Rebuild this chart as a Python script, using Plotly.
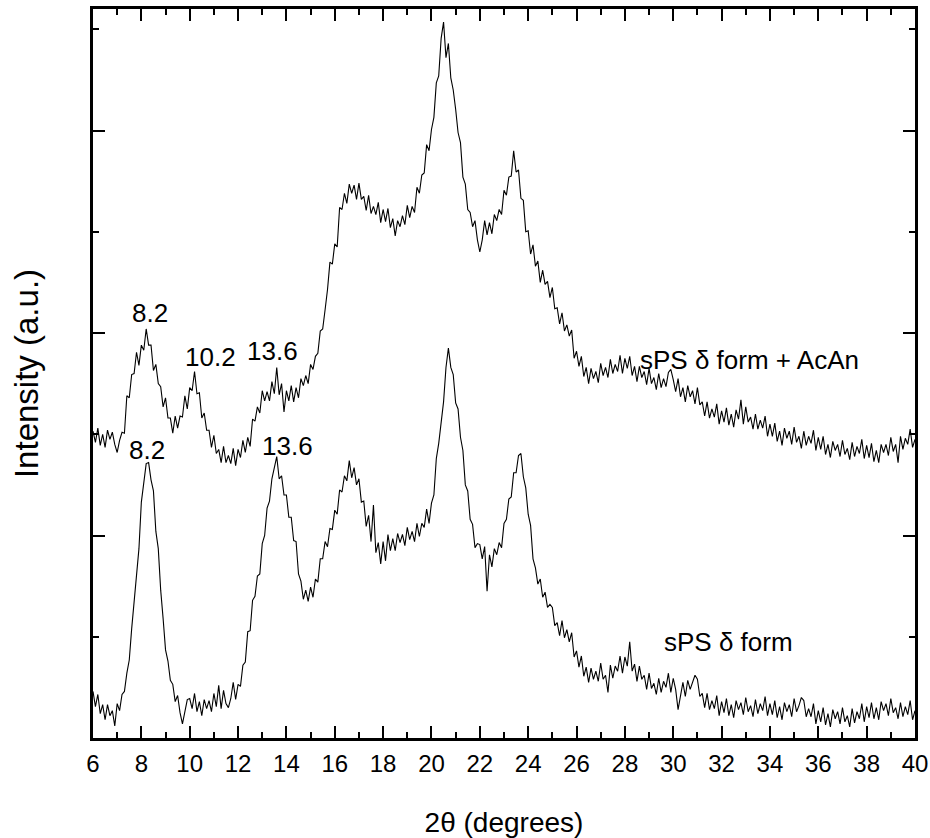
import numpy as np
import plotly.graph_objects as go

# 2-theta sampling grid (degrees)
THETA_START = 6.0
THETA_STEP = 0.1
N_POINTS = 341
X_RANGE = [6, 40]

# sPS delta form + AcAn (upper pattern), a.u.
acan_intensity = [
    3.03, 2.92, 3.06, 2.89, 3.00, 2.87, 3.04, 2.95, 3.02, 2.90,
    2.82, 2.94, 3.02, 3.01, 3.38, 3.36, 3.59, 3.60, 3.81, 3.68,
    3.88, 3.83, 4.04, 3.88, 3.88, 3.63, 3.69, 3.50, 3.47, 3.27,
    3.36, 3.16, 3.16, 3.01, 3.18, 3.06, 3.18, 3.17, 3.38, 3.25,
    3.46, 3.43, 3.62, 3.40, 3.41, 3.16, 3.21, 3.04, 3.04, 2.87,
    2.99, 2.81, 2.85, 2.72, 2.88, 2.72, 2.79, 2.71, 2.86, 2.69,
    2.85, 2.77, 2.94, 2.82, 2.97, 2.88, 3.15, 3.13, 3.27, 3.21,
    3.43, 3.33, 3.42, 3.33, 3.52, 3.40, 3.66, 3.39, 3.50, 3.22,
    3.43, 3.33, 3.48, 3.32, 3.46, 3.36, 3.55, 3.48, 3.58, 3.50,
    3.69, 3.64, 3.77, 3.80, 4.02, 4.04, 4.23, 4.43, 4.70, 4.68,
    4.88, 4.85, 5.24, 5.22, 5.38, 5.28, 5.47, 5.38, 5.46, 5.32,
    5.48, 5.32, 5.35, 5.21, 5.36, 5.18, 5.25, 5.17, 5.29, 5.09,
    5.22, 5.10, 5.23, 5.04, 5.13, 4.96, 5.11, 5.05, 5.16, 5.07,
    5.26, 5.14, 5.25, 5.19, 5.44, 5.38, 5.56, 5.58, 5.86, 5.80,
    6.01, 6.13, 6.47, 6.54, 6.91, 7.07, 6.72, 6.86, 6.52, 6.40,
    6.21, 5.98, 5.88, 5.54, 5.47, 5.22, 5.19, 5.05, 5.11, 4.92,
    4.80, 4.92, 5.11, 4.97, 5.09, 4.98, 5.17, 5.11, 5.22, 5.17,
    5.41, 5.36, 5.54, 5.55, 5.80, 5.59, 5.61, 5.33, 5.31, 5.00,
    5.01, 4.78, 4.87, 4.66, 4.71, 4.50, 4.62, 4.48, 4.51, 4.35,
    4.45, 4.24, 4.25, 4.09, 4.20, 4.02, 4.08, 3.97, 4.03, 3.75,
    3.82, 3.67, 3.77, 3.57, 3.66, 3.50, 3.65, 3.55, 3.62, 3.51,
    3.70, 3.58, 3.66, 3.56, 3.74, 3.60, 3.69, 3.62, 3.78, 3.60,
    3.75, 3.65, 3.77, 3.58, 3.67, 3.52, 3.67, 3.56, 3.62, 3.49,
    3.65, 3.50, 3.56, 3.44, 3.60, 3.46, 3.55, 3.47, 3.61, 3.64,
    3.54, 3.42, 3.55, 3.37, 3.46, 3.32, 3.48, 3.37, 3.43, 3.30,
    3.46, 3.29, 3.32, 3.18, 3.32, 3.16, 3.25, 3.17, 3.30, 3.10,
    3.23, 3.12, 3.26, 3.09, 3.20, 3.07, 3.24, 3.15, 3.34, 3.10,
    3.27, 3.12, 3.17, 3.05, 3.20, 3.05, 3.14, 3.06, 3.18, 2.98,
    3.10, 2.98, 3.11, 2.93, 3.03, 2.89, 3.06, 2.96, 3.03, 2.90,
    3.07, 2.92, 2.98, 2.86, 3.03, 2.89, 2.98, 2.91, 3.04, 2.84,
    2.97, 2.85, 2.98, 2.80, 2.90, 2.77, 2.93, 2.84, 2.90, 2.78,
    2.94, 2.80, 2.86, 2.75, 2.92, 2.78, 2.88, 2.81, 2.95, 2.76,
    2.89, 2.77, 2.91, 2.73, 2.84, 2.72, 2.90, 2.82, 2.90, 2.79,
    2.97, 2.83, 2.90, 2.72, 2.98, 2.85, 2.96, 2.90, 3.05, 2.87,
    2.95,
]

# sPS delta form (lower pattern), a.u.
delta_intensity = [
    0.46, 0.31, 0.43, 0.24, 0.33, 0.18, 0.33, 0.22, 0.27, 0.12,
    0.34, 0.27, 0.43, 0.46, 0.64, 0.77, 1.08, 1.33, 1.64, 1.87,
    2.33, 2.51, 2.71, 2.72, 2.55, 2.44, 2.04, 1.87, 1.46, 1.18,
    0.87, 0.76, 0.57, 0.53, 0.36, 0.42, 0.25, 0.14, 0.25, 0.38,
    0.39, 0.29, 0.44, 0.26, 0.36, 0.22, 0.38, 0.29, 0.37, 0.26,
    0.44, 0.31, 0.52, 0.29, 0.47, 0.34, 0.30, 0.39, 0.55, 0.38,
    0.53, 0.51, 0.72, 0.75, 1.05, 1.06, 1.36, 1.40, 1.60, 1.62,
    1.92, 2.00, 2.27, 2.34, 2.56, 2.68, 2.78, 2.56, 2.59, 2.40,
    2.40, 2.18, 2.18, 1.95, 1.94, 1.62, 1.55, 1.37, 1.46, 1.35,
    1.49, 1.39, 1.57, 1.54, 1.77, 1.77, 1.94, 1.89, 2.07, 2.06,
    2.25, 2.21, 2.45, 2.43, 2.59, 2.54, 2.74, 2.57, 2.67, 2.50,
    2.56, 2.33, 2.34, 2.09, 2.20, 1.94, 2.30, 1.83, 1.93, 1.72,
    1.94, 1.75, 2.01, 1.85, 1.97, 1.85, 2.02, 1.93, 2.01, 1.90,
    2.08, 1.96, 2.04, 1.94, 2.12, 1.99, 2.12, 2.08, 2.26, 2.12,
    2.32, 2.40, 2.76, 2.91, 3.15, 3.32, 3.66, 3.85, 3.66, 3.59,
    3.31, 3.25, 2.97, 2.84, 2.50, 2.44, 2.16, 2.11, 1.88, 1.92,
    1.91, 1.77, 1.89, 1.45, 1.81, 1.69, 1.87, 1.81, 1.93, 1.88,
    2.12, 2.16, 2.36, 2.38, 2.62, 2.62, 2.79, 2.81, 2.58, 2.47,
    2.21, 2.10, 1.77, 1.68, 1.52, 1.57, 1.39, 1.44, 1.29, 1.32,
    1.29, 1.11, 1.14, 1.01, 1.16, 0.99, 1.07, 0.95, 1.04, 0.80,
    0.86, 0.70, 0.81, 0.61, 0.70, 0.55, 0.69, 0.58, 0.66, 0.56,
    0.74, 0.58, 0.62, 0.45, 0.72, 0.59, 0.71, 0.66, 0.81, 0.64,
    0.80, 0.71, 0.95, 0.66, 0.73, 0.56, 0.71, 0.58, 0.62, 0.48,
    0.64, 0.49, 0.54, 0.43, 0.59, 0.45, 0.56, 0.50, 0.64, 0.45,
    0.59, 0.48, 0.28, 0.44, 0.55, 0.41, 0.57, 0.48, 0.55, 0.62,
    0.58, 0.41, 0.44, 0.30, 0.44, 0.28, 0.37, 0.29, 0.42, 0.22,
    0.36, 0.25, 0.39, 0.22, 0.33, 0.20, 0.37, 0.28, 0.35, 0.23,
    0.40, 0.26, 0.32, 0.21, 0.38, 0.24, 0.34, 0.27, 0.41, 0.22,
    0.34, 0.23, 0.37, 0.20, 0.31, 0.18, 0.35, 0.26, 0.33, 0.21,
    0.39, 0.26, 0.32, 0.40, 0.37, 0.21, 0.29, 0.21, 0.34, 0.14,
    0.27, 0.16, 0.30, 0.13, 0.24, 0.11, 0.28, 0.19, 0.26, 0.14,
    0.30, 0.16, 0.22, 0.11, 0.29, 0.15, 0.26, 0.19, 0.34, 0.16,
    0.31, 0.20, 0.35, 0.19, 0.30, 0.18, 0.36, 0.27, 0.34, 0.22,
    0.39, 0.25, 0.30, 0.19, 0.35, 0.21, 0.31, 0.23, 0.37, 0.18,
    0.27,
]

# peak labels: (text, x, y)
peak_labels = ["8.2", "10.2", "13.6", "8.2", "13.6"]
peak_x = [8.34, 10.84, 13.42, 8.25, 14.04]
peak_y = [4.20, 3.76, 3.82, 2.84, 2.88]

series_names = ["sPS \u03b4 form + AcAn", "sPS \u03b4 form"]
series_label_x = [33.15, 32.3]
series_label_y = [3.73, 0.95]

two_theta = np.round(THETA_START + THETA_STEP * np.arange(N_POINTS), 2)

FONT = "Arial, 'Liberation Sans', sans-serif"

fig = go.Figure()
fig.add_trace(go.Scatter(x=two_theta, y=acan_intensity, mode="lines",
                         line=dict(color="black", width=1.1),
                         name=series_names[0], showlegend=False))
fig.add_trace(go.Scatter(x=two_theta, y=delta_intensity, mode="lines",
                         line=dict(color="black", width=1.1),
                         name=series_names[1], showlegend=False))
# empty trace so that the top (mirror) x axis with its ticks is drawn
fig.add_trace(go.Scatter(x=X_RANGE, y=[None, None], xaxis="x2",
                         mode="lines", showlegend=False, hoverinfo="skip"))

for t, x, y in zip(peak_labels, peak_x, peak_y):
    fig.add_annotation(x=x, y=y, text=t, showarrow=False,
                       font=dict(family=FONT, size=26, color="black"))
for t, x, y in zip(series_names, series_label_x, series_label_y):
    fig.add_annotation(x=x, y=y, text=t, showarrow=False,
                       font=dict(family=FONT, size=26, color="black"))

axis_common = dict(showline=True, linecolor="black", linewidth=2.5,
                   mirror="ticks", ticks="inside", tickcolor="black",
                   tickwidth=2, ticklen=12, showgrid=False, zeroline=False)
minor_ticks = dict(dtick=1, ticks="inside", ticklen=6, tickwidth=2,
                   tickcolor="black", showgrid=False)

fig.update_layout(
    xaxis=dict(range=X_RANGE, tick0=6, dtick=2,
               tickfont=dict(family=FONT, size=24, color="black"),
               ticklabelstandoff=2, minor=minor_ticks,
               title=dict(text="2\u03b8 (degrees)",
                          font=dict(family=FONT, size=28, color="black"),
                          standoff=40),
               **axis_common),
    xaxis2=dict(range=X_RANGE, tick0=6, dtick=2, overlaying="x", side="top",
                anchor="y", showticklabels=False, minor=minor_ticks,
                showline=True, linecolor="black", linewidth=2.5,
                ticks="inside", tickcolor="black", tickwidth=2, ticklen=12,
                showgrid=False, zeroline=False),
    yaxis=dict(range=[0, 7.2], tick0=0, dtick=2, showticklabels=False,
               minor=minor_ticks,
               title=dict(text="Intensity (a.u.)",
                          font=dict(family=FONT, size=33, color="black"),
                          standoff=42),
               **axis_common),
)

fig.update_layout(width=930, height=838, plot_bgcolor="white",
                  paper_bgcolor="white",
                  margin=dict(l=93, r=15, t=9, b=100, autoexpand=False),
                  showlegend=False)

fig.write_html("out.html",
               config={"displayModeBar": False},
               post_script="document.body.style.margin='0';"
                           "document.body.style.overflow='hidden';")
